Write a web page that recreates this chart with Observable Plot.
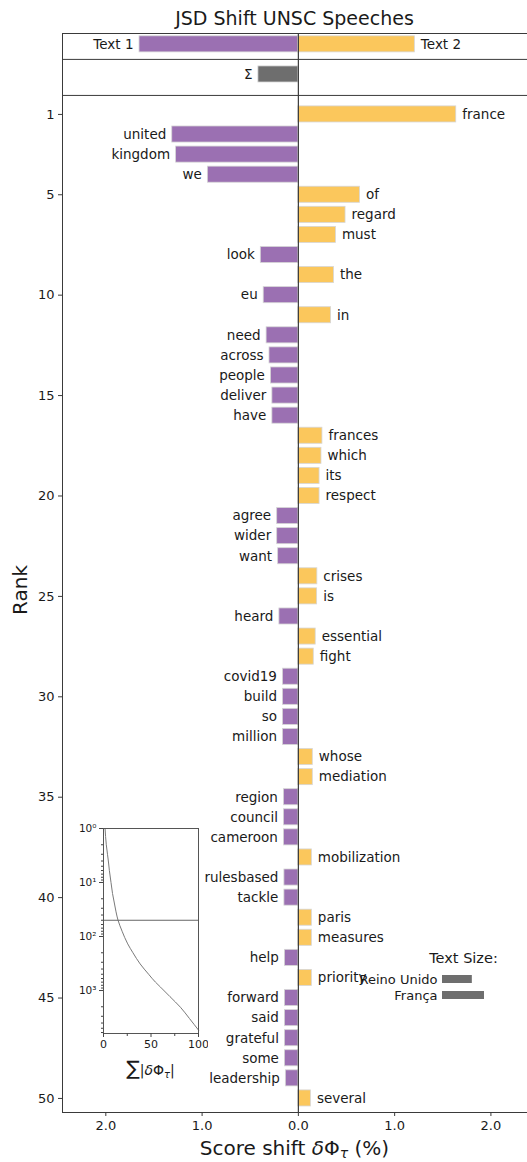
<!DOCTYPE html>
<html><head><meta charset="utf-8">
<script src="https://cdn.jsdelivr.net/npm/d3@7"></script>
<script src="https://cdn.jsdelivr.net/npm/@observablehq/plot@0.6"></script>
<style>
body{margin:0;background:#fff;}
#wrap{position:relative;width:527px;height:1162px;overflow:hidden;font-family:"DejaVu Sans",sans-serif;}
#wrap > div, #wrap > svg {position:absolute;}
</style></head><body><div id="wrap"></div>
<script>
// ---- data ----
const words = ["france","united","kingdom","we","of","regard","must","look","the","eu",
  "in","need","across","people","deliver","have","frances","which","its","respect",
  "agree","wider","want","crises","is","heard","essential","fight","covid19","build",
  "so","million","whose","mediation","region","council","cameroon","mobilization","rulesbased","tackle",
  "paris","measures","help","priority","forward","said","grateful","some","leadership","several"];
const shifts = [1.64,-1.31,-1.27,-0.94,0.64,0.49,0.39,-0.39,0.37,-0.36,
  0.34,-0.33,-0.30,-0.285,-0.27,-0.27,0.25,0.24,0.22,0.22,
  -0.22,-0.22,-0.21,0.197,0.195,-0.197,0.18,0.16,-0.16,-0.16,
  -0.16,-0.16,0.15,0.15,-0.15,-0.15,-0.15,0.14,-0.145,-0.145,
  0.14,0.14,-0.14,0.14,-0.14,-0.14,-0.14,-0.14,-0.13,0.13];
const headerLabels = ["Text 1","Text 2","Σ"];
const headerValues = [-1.65, 1.21, -0.415];
const rankTicks = [1,5,10,15,20,25,30,35,40,45,50];
const shiftTicks = [-2,-1,0,1,2];
const cumRanks = [1,2,3,4,6,10,16,25,35,50,80,137,200,322,500,700,865,1300,2040,3300,5400];
const cumPercent = [1.64,2.95,4.2,5.1,6.2,7.9,9.5,11.6,13.2,15.3,19.6,25.5,31,38.6,47.5,54.7,60,70,81,90.5,100];
const textSizeLabels = ["Reino Unido","França"];
const textSizeValues = [0.71, 1.0];

// ---- style ----
const purple = "#9b70b2", yellow = "#fbc75c", gray = "#6e6e6e", ink = "#1a1a1a", lineC = "#3a3a3a";
const L = {headerTop:-3.03, headerSplit:-1.74, mainTop:0.054, rankMax:50.7, xMin:-2.45, xMax:2.38,
  rowText:-2.49, rowSum:-0.99, half:0.4};

const rows = words.map((w,i)=>({word:w, value:shifts[i], rank:i+1}));
const rowOf = [L.rowText, L.rowText, L.rowSum];
const colorOf = [purple, yellow, gray];
const header = headerLabels.map((h,i)=>({label:h, value:headerValues[i], row:rowOf[i], fill:colorOf[i]}));

const font = {fontFamily:"DejaVu Sans, sans-serif", background:"transparent", color:ink};

const main = Plot.plot({
  width:527, height:1162, marginLeft:62, marginRight:0, marginTop:33, marginBottom:50,
  style:{...font, fontSize:"13px"},
  x:{domain:[L.xMin, L.xMax]},
  y:{domain:[L.headerTop, L.rankMax], reverse:true},
  color:{type:"identity"},
  marks:[
    Plot.rect(rows, {x1:0, x2:"value", y1:d=>d.rank-L.half, y2:d=>d.rank+L.half,
      fill:d=>d.value<0?purple:yellow, stroke:"#d6d6d6", strokeWidth:0.8}),
    Plot.rect(header, {x1:0, x2:"value", y1:d=>d.row-L.half, y2:d=>d.row+L.half,
      fill:"fill", stroke:"#d6d6d6", strokeWidth:0.8}),
    Plot.text(rows.filter(d=>d.value>0), {x:"value", y:"rank", text:"word", textAnchor:"start", dx:6, fontSize:13.5, fill:ink}),
    Plot.text(rows.filter(d=>d.value<0), {x:"value", y:"rank", text:"word", textAnchor:"end", dx:-6, fontSize:13.5, fill:ink}),
    Plot.text(header.filter(d=>d.value>0), {x:"value", y:"row", text:"label", textAnchor:"start", dx:6, fontSize:13.5, fill:ink}),
    Plot.text(header.filter(d=>d.value<0), {x:"value", y:"row", text:"label", textAnchor:"end", dx:-6, fontSize:13.5, fill:ink}),
    Plot.ruleY([L.headerTop, L.headerSplit, L.mainTop, L.rankMax], {stroke:lineC, strokeWidth:1}),
    Plot.ruleX([L.xMin], {y1:L.headerTop, y2:L.rankMax, stroke:lineC, strokeWidth:1}),
    Plot.ruleX([0], {y1:L.headerTop, y2:L.rankMax, stroke:lineC, strokeWidth:1.2}),
    Plot.axisY({ticks:rankTicks, tickSize:4, tickPadding:4, fontSize:13, anchor:"left", label:null, stroke:lineC}),
    Plot.axisX({ticks:shiftTicks, tickFormat:d=>Math.abs(d).toFixed(1), tickSize:4, tickPadding:4, fontSize:13, anchor:"bottom", label:null, stroke:lineC})
  ]
});
main.style.left="0px"; main.style.top="0px";
const wrap = document.getElementById("wrap");
wrap.appendChild(main);

const ms = d3.select(main);
ms.append("text").attr("x",294.5).attr("y",25).attr("text-anchor","middle")
  .attr("font-size",19).attr("fill",ink).text("JSD Shift UNSC Speeches");
ms.append("text").attr("transform","translate(27,590) rotate(-90)").attr("text-anchor","middle")
  .attr("font-size",20).attr("fill",ink).text("Rank");
const xl = ms.append("text").attr("x",294.5).attr("y",1155).attr("text-anchor","middle")
  .attr("font-size",20).attr("fill",ink);
xl.append("tspan").text("Score shift ");
xl.append("tspan").attr("font-style","italic").text("δ");
xl.append("tspan").text("Φ");
xl.append("tspan").attr("font-size",14).attr("font-style","italic").attr("dy",3).text("τ");
xl.append("tspan").attr("dy",-3).text(" (%)");

// ---- inset ----
const cum = cumRanks.map((r,i)=>({rank:r, pct:cumPercent[i]}));
const minor = [];
for (const dec of [1,10,100,1000]) for (let m=2;m<=9;m++) if (dec*m<6250) minor.push(dec*m);
const sup = {"1":"10⁰","10":"10¹","100":"10²","1000":"10³"};
const inset = Plot.plot({
  width:148, height:265, marginLeft:43, marginRight:10, marginTop:10, marginBottom:50,
  style:{...font, fontSize:"11px"},
  x:{domain:[0,100]},
  y:{type:"log", domain:[1,6250], reverse:true},
  marks:[
    Plot.line(cum, {x:"pct", y:"rank", stroke:"#7a7a7a", strokeWidth:1, curve:"monotone-y"}),
    Plot.ruleY([words.length], {stroke:"#666", strokeWidth:1}),
    Plot.frame({stroke:"#555", strokeWidth:1}),
    Plot.axisY({ticks:[1,10,100,1000], tickFormat:d=>sup[String(d)], tickSize:4, tickPadding:3, fontSize:10.5, label:null, stroke:"#444"}),
    Plot.axisY({ticks:minor, tickFormat:()=>"", tickSize:2, label:null, stroke:"#444"}),
    Plot.axisX({ticks:[0,50,100], tickSize:4, tickPadding:3, fontSize:11, label:null, stroke:"#444"}),
    Plot.axisX({ticks:[25,75], tickFormat:()=>"", tickSize:3, label:null, stroke:"#444"})
  ]
});
inset.style.left="60px"; inset.style.top="818px";
wrap.appendChild(inset);
const il = d3.select(inset).append("text").attr("x",90.5).attr("y",257).attr("text-anchor","middle")
  .attr("font-size",14).attr("fill",ink);
il.append("tspan").attr("font-size",20).text("∑");
il.append("tspan").text("|");
il.append("tspan").attr("font-style","italic").text("δ");
il.append("tspan").text("Φ");
il.append("tspan").attr("font-size",10).attr("font-style","italic").attr("dy",3).text("τ");
il.append("tspan").attr("dy",-3).text("|");

// ---- text size legend ----
const ts = textSizeLabels.map((l,i)=>({label:l, value:textSizeValues[i]}));
const leg = Plot.plot({
  width:185, height:70, marginLeft:102, marginRight:41, marginTop:22, marginBottom:8,
  style:{...font, fontSize:"13px"},
  x:{domain:[0,1], axis:null},
  y:{domain:textSizeLabels, axis:null, padding:0.5},
  marks:[
    Plot.barX(ts, {x:"value", y:"label", fill:gray}),
    Plot.text(ts, {x:0, y:"label", text:"label", textAnchor:"end", dx:-5, fontSize:13, fill:ink}),
    Plot.text(["Text Size:"], {frameAnchor:"top", dy:-9, lineAnchor:"middle", fontSize:14.5, fill:ink})
  ]
});
leg.style.left="340px"; leg.style.top="945px";
wrap.appendChild(leg);
</script></body></html>
